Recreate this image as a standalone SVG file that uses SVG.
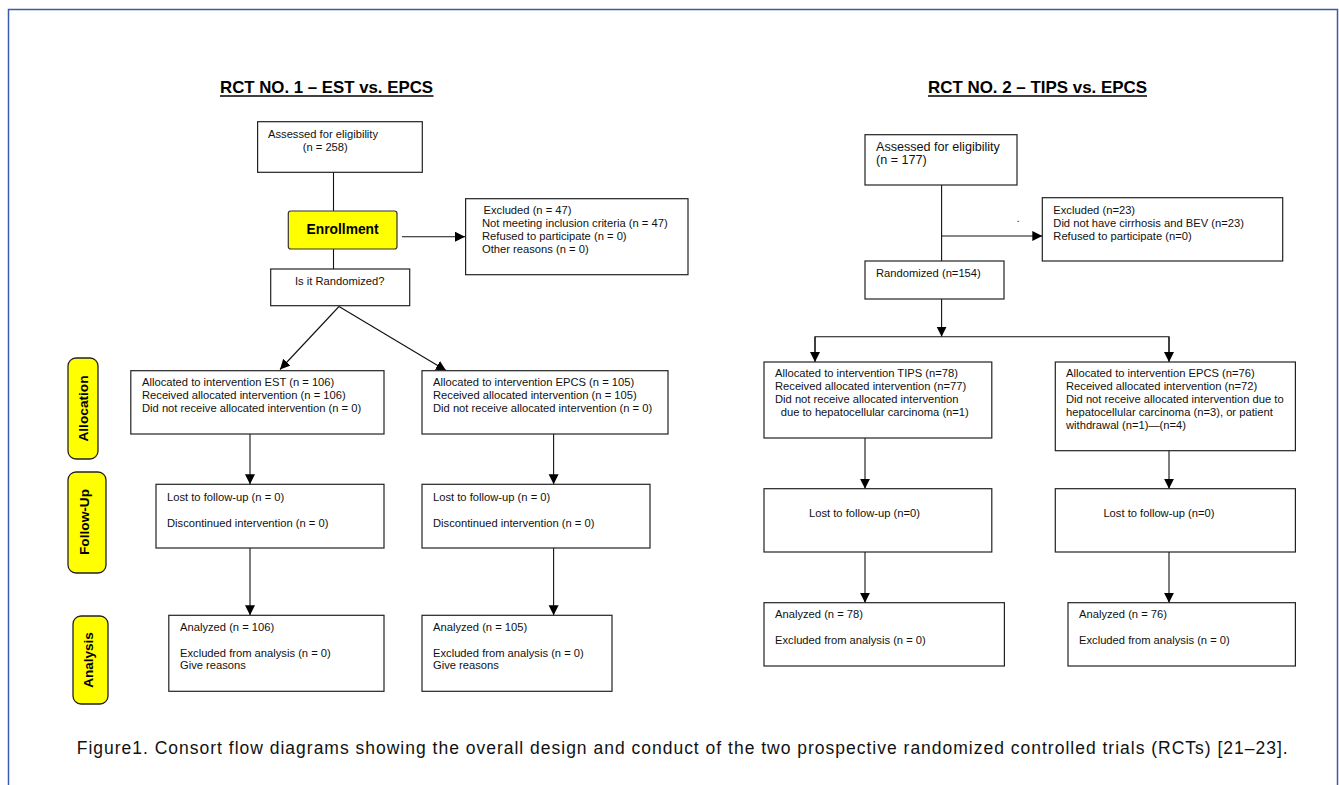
<svg xmlns="http://www.w3.org/2000/svg" width="1339" height="785" viewBox="0 0 1339 785">
<style>
.box{fill:#fff;stroke:#222;stroke-width:1.2}
.t{font-family:"Liberation Sans",Arial,sans-serif;font-size:11.2px;fill:#111}
.tl{font-family:"Liberation Sans",Arial,sans-serif;font-size:12.6px;fill:#111}
.tb{font-family:"Liberation Sans",Arial,sans-serif;font-weight:bold;fill:#000}
.ln{stroke:#111;stroke-width:1.1;fill:none}
.side{fill:#ffff00;stroke:#222;stroke-width:1.3}
</style>
<defs>
<marker id="ah" markerUnits="userSpaceOnUse" markerWidth="11" markerHeight="11" refX="10" refY="5" orient="auto">
<path d="M0,0 L10,5 L0,10 z" fill="#000"/>
</marker>
</defs>
<rect width="1339" height="785" fill="#fff"/>
<path d="M8.5,785 V9.5 H1337.5 V785" fill="none" stroke="#3a5bab" stroke-width="1.5"/>

<g id="titles">
<text class="tb" x="220" y="93" font-size="17" textLength="213" lengthAdjust="spacingAndGlyphs">RCT NO. 1 – EST vs. EPCS</text>
<line x1="220" y1="96" x2="433.5" y2="96" stroke="#000" stroke-width="1.4"/>
<text class="tb" x="928" y="93" font-size="17" textLength="219" lengthAdjust="spacingAndGlyphs">RCT NO. 2 – TIPS vs. EPCS</text>
<line x1="928" y1="96" x2="1147" y2="96" stroke="#000" stroke-width="1.4"/>
</g>

<g id="connectors">
<line class="ln" x1="333.5" y1="172.3" x2="333.5" y2="269"/>
<line class="ln" x1="402" y1="236.7" x2="465" y2="236.7" marker-end="url(#ah)"/>
<line class="ln" x1="339" y1="306.5" x2="280" y2="369.5" marker-end="url(#ah)"/>
<line class="ln" x1="339" y1="306.5" x2="446" y2="370.5" marker-end="url(#ah)"/>
<line class="ln" x1="250" y1="434" x2="250" y2="484.3" marker-end="url(#ah)"/>
<line class="ln" x1="553.6" y1="434" x2="553.6" y2="484.3" marker-end="url(#ah)"/>
<line class="ln" x1="250" y1="548" x2="250" y2="615.3" marker-end="url(#ah)"/>
<line class="ln" x1="553.6" y1="548" x2="553.6" y2="615.3" marker-end="url(#ah)"/>

<line class="ln" x1="941.6" y1="185" x2="941.6" y2="261"/>
<line class="ln" x1="941.6" y1="236" x2="1042.3" y2="236" marker-end="url(#ah)"/>
<line class="ln" x1="941.6" y1="299" x2="941.6" y2="336.7" marker-end="url(#ah)"/>
<polyline class="ln" points="815,360 815,336.7 1169,336.7 1169,360"/>
<line class="ln" x1="815" y1="336.7" x2="815" y2="362" marker-end="url(#ah)"/>
<line class="ln" x1="1169" y1="336.7" x2="1169" y2="362" marker-end="url(#ah)"/>
<line class="ln" x1="865" y1="438" x2="865" y2="488.7" marker-end="url(#ah)"/>
<line class="ln" x1="1169" y1="450.7" x2="1169" y2="488.7" marker-end="url(#ah)"/>
<line class="ln" x1="865" y1="552" x2="865" y2="602.7" marker-end="url(#ah)"/>
<line class="ln" x1="1169" y1="552" x2="1169" y2="602.7" marker-end="url(#ah)"/>
</g>

<g id="side-allocation">
<rect class="side" x="68" y="358" width="30" height="101" rx="8"/>
<text class="tb" font-size="13.7" text-anchor="middle" transform="translate(88,408.5) rotate(-90)">Allocation</text>
</g>
<g id="side-followup">
<rect class="side" x="68" y="472" width="38" height="101" rx="8"/>
<text class="tb" font-size="13.7" text-anchor="middle" transform="translate(89,522) rotate(-90)">Follow-Up</text>
</g>
<g id="side-analysis">
<rect class="side" x="73" y="616" width="35" height="88" rx="8"/>
<text class="tb" font-size="13.5" text-anchor="middle" transform="translate(93,660) rotate(-90)">Analysis</text>
</g>

<g id="r1-assessed">
<rect class="box" x="257.6" y="121.7" width="164.7" height="50.6"/>
<text class="t" x="268" y="137.7">Assessed for eligibility</text>
<text class="t" x="302.7" y="151">(n = 258)</text>
</g>
<g id="r1-enrollment">
<rect x="288.3" y="211" width="108.7" height="38" rx="2.5" fill="#ffff00" stroke="#333" stroke-width="1.2"/>
<text class="tb" x="342.6" y="234.3" font-size="13.8" text-anchor="middle">Enrollment</text>
</g>
<g id="r1-excluded">
<rect class="box" x="465.6" y="198.7" width="222.4" height="76"/>
<text class="t" x="483.5" y="213.7">Excluded (n = 47)</text>
<text class="t" x="482" y="226.7">Not meeting inclusion criteria (n = 47)</text>
<text class="t" x="482" y="239.7">Refused to participate (n = 0)</text>
<text class="t" x="482" y="252.7">Other reasons (n = 0)</text>
</g>
<g id="r1-randomized">
<rect class="box" x="270.7" y="269" width="139" height="36.7"/>
<text class="t" x="339.7" y="285" text-anchor="middle">Is it Randomized?</text>
</g>
<g id="r1-alloc-est">
<rect class="box" x="130.8" y="370.7" width="253.2" height="63.3"/>
<text class="t" x="142" y="386">Allocated to intervention EST (n = 106)</text>
<text class="t" x="142" y="399">Received allocated intervention (n = 106)</text>
<text class="t" x="142" y="412.3">Did not receive allocated intervention (n = 0)</text>
</g>
<g id="r1-alloc-epcs">
<rect class="box" x="422" y="370.7" width="246" height="63.3"/>
<text class="t" x="433" y="386">Allocated to intervention EPCS (n = 105)</text>
<text class="t" x="433" y="399">Received allocated intervention (n = 105)</text>
<text class="t" x="433" y="412.3">Did not receive allocated intervention (n = 0)</text>
</g>
<g id="r1-follow-est">
<rect class="box" x="156" y="484.3" width="228" height="63.7"/>
<text class="t" x="167" y="500.7">Lost to follow-up (n = 0)</text>
<text class="t" x="167" y="526.7">Discontinued intervention (n = 0)</text>
</g>
<g id="r1-follow-epcs">
<rect class="box" x="422" y="484.3" width="228" height="63.7"/>
<text class="t" x="433" y="500.7">Lost to follow-up (n = 0)</text>
<text class="t" x="433" y="526.7">Discontinued intervention (n = 0)</text>
</g>
<g id="r1-analysis-est">
<rect class="box" x="168.8" y="615.3" width="215.2" height="76"/>
<text class="t" x="180" y="630.7">Analyzed (n = 106)</text>
<text class="t" x="180" y="656.7">Excluded from analysis (n = 0)</text>
<text class="t" x="180" y="669.3">Give reasons</text>
</g>
<g id="r1-analysis-epcs">
<rect class="box" x="422" y="615.3" width="190" height="76"/>
<text class="t" x="433" y="630.7">Analyzed (n = 105)</text>
<text class="t" x="433" y="656.7">Excluded from analysis (n = 0)</text>
<text class="t" x="433" y="669.3">Give reasons</text>
</g>

<g id="r2-assessed">
<rect class="box" x="865" y="134.7" width="152" height="50.3"/>
<text class="tl" x="876" y="151">Assessed for eligibility</text>
<text class="tl" x="876" y="164.3">(n = 177)</text>
</g>
<text class="t" x="1016.5" y="222">.</text>
<g id="r2-excluded">
<rect class="box" x="1042.3" y="197.7" width="240.4" height="63.3"/>
<text class="t" x="1053.3" y="213.7">Excluded (n=23)</text>
<text class="t" x="1053.3" y="226.7">Did not have cirrhosis and BEV (n=23)</text>
<text class="t" x="1053.3" y="239.7">Refused to participate (n=0)</text>
</g>
<g id="r2-randomized">
<rect class="box" x="865" y="261" width="139" height="38"/>
<text class="t" x="876" y="276.7">Randomized (n=154)</text>
</g>
<g id="r2-alloc-tips">
<rect class="box" x="764" y="362" width="227.8" height="76"/>
<text class="t" x="775" y="377.3">Allocated to intervention TIPS (n=78)</text>
<text class="t" x="775" y="390.3">Received allocated intervention (n=77)</text>
<text class="t" x="775" y="403.3">Did not receive allocated intervention</text>
<text class="t" x="780.7" y="416.3">due to hepatocellular carcinoma (n=1)</text>
</g>
<g id="r2-alloc-epcs">
<rect class="box" x="1055.3" y="362" width="240.1" height="88.7"/>
<text class="t" x="1066" y="377.3">Allocated to intervention EPCS (n=76)</text>
<text class="t" x="1066" y="390.3">Received allocated intervention (n=72)</text>
<text class="t" x="1066" y="403.3">Did not receive allocated intervention due to</text>
<text class="t" x="1066" y="416.3">hepatocellular carcinoma (n=3), or patient</text>
<text class="t" x="1066" y="429.3">withdrawal (n=1)—(n=4)</text>
</g>
<g id="r2-follow-tips">
<rect class="box" x="764" y="488.7" width="227.8" height="63.3"/>
<text class="t" x="809" y="517.3">Lost to follow-up (n=0)</text>
</g>
<g id="r2-follow-epcs">
<rect class="box" x="1055.3" y="488.7" width="240.1" height="63.3"/>
<text class="t" x="1103.4" y="517.3">Lost to follow-up (n=0)</text>
</g>
<g id="r2-analysis-tips">
<rect class="box" x="764" y="602.7" width="240.4" height="63.3"/>
<text class="t" x="775" y="618.3">Analyzed (n = 78)</text>
<text class="t" x="775" y="644.3">Excluded from analysis (n = 0)</text>
</g>
<g id="r2-analysis-epcs">
<rect class="box" x="1068" y="602.7" width="227.4" height="63.3"/>
<text class="t" x="1079" y="618.3">Analyzed (n = 76)</text>
<text class="t" x="1079" y="644.3">Excluded from analysis (n = 0)</text>
</g>

<text x="76.7" y="754.3" font-family="'Liberation Sans',Arial,sans-serif" font-size="17.5" fill="#111" textLength="1211" lengthAdjust="spacing">Figure1. Consort flow diagrams showing the overall design and conduct of the two prospective randomized controlled trials (RCTs) [21–23].</text>
</svg>
